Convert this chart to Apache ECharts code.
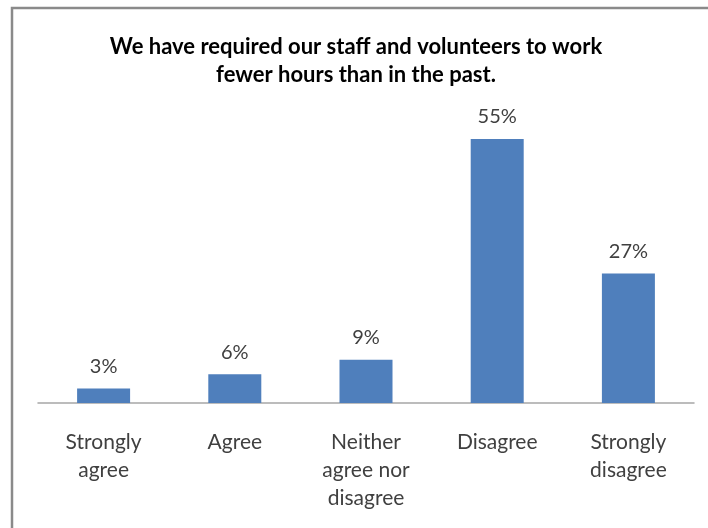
<!DOCTYPE html>
<html>
<head>
<meta charset="utf-8">
<script src="https://cdn.jsdelivr.net/npm/echarts@6/dist/echarts.min.js"></script>
<style>
  html, body { margin: 0; padding: 0; background: #fff; }
  #chart { width: 708px; height: 528px; }
</style>
</head>
<body>
<div id="chart"></div>
<script>
// Survey responses: share of organisations per answer
const titleLines = ['We have required our staff and volunteers to work', 'fewer hours than in the past.'];
const categories = ['Strongly\nagree', 'Agree', 'Neither\nagree nor\ndisagree', 'Disagree', 'Strongly\ndisagree'];
const percentages = [3, 6, 9, 55, 27];

const chart = echarts.init(document.getElementById('chart'));
chart.setOption({
  backgroundColor: '#ffffff',
  animation: false,
  graphic: [{
    type: 'rect',
    shape: { x: 12, y: 8, width: 740, height: 560 },
    style: { fill: 'none', stroke: '#8a8a8a', lineWidth: 2.5 },
    silent: true
  }],
  title: {
    text: titleLines.join('\n'),
    left: 351,
    textAlign: 'center',
    top: 28,
    textStyle: {
      fontFamily: 'Lato',
      fontWeight: 'bold',
      fontSize: 22,
      lineHeight: 28,
      color: '#000'
    }
  },
  grid: { left: 38, right: 14, top: 115, bottom: 125 },
  xAxis: {
    type: 'category',
    data: categories,
    axisLine: { show: true, lineStyle: { color: '#a6a6a6', width: 1.5 } },
    axisTick: { show: false },
    axisLabel: {
      interval: 0,
      margin: 25,
      fontFamily: 'Lato',
      fontSize: 21,
      lineHeight: 28,
      color: '#404040',
      verticalAlign: 'top'
    }
  },
  yAxis: {
    type: 'value',
    min: 0,
    max: 60,
    show: false,
    splitLine: { show: false }
  },
  series: [{
    type: 'bar',
    data: percentages,
    barWidth: 53,
    itemStyle: { color: '#4f7fbc' },
    label: {
      show: true,
      position: 'top',
      distance: 12,
      formatter: p => p.value + '%',
      fontFamily: 'Lato',
      fontSize: 20,
      color: '#404040'
    }
  }]
});
</script>
</body>
</html>
